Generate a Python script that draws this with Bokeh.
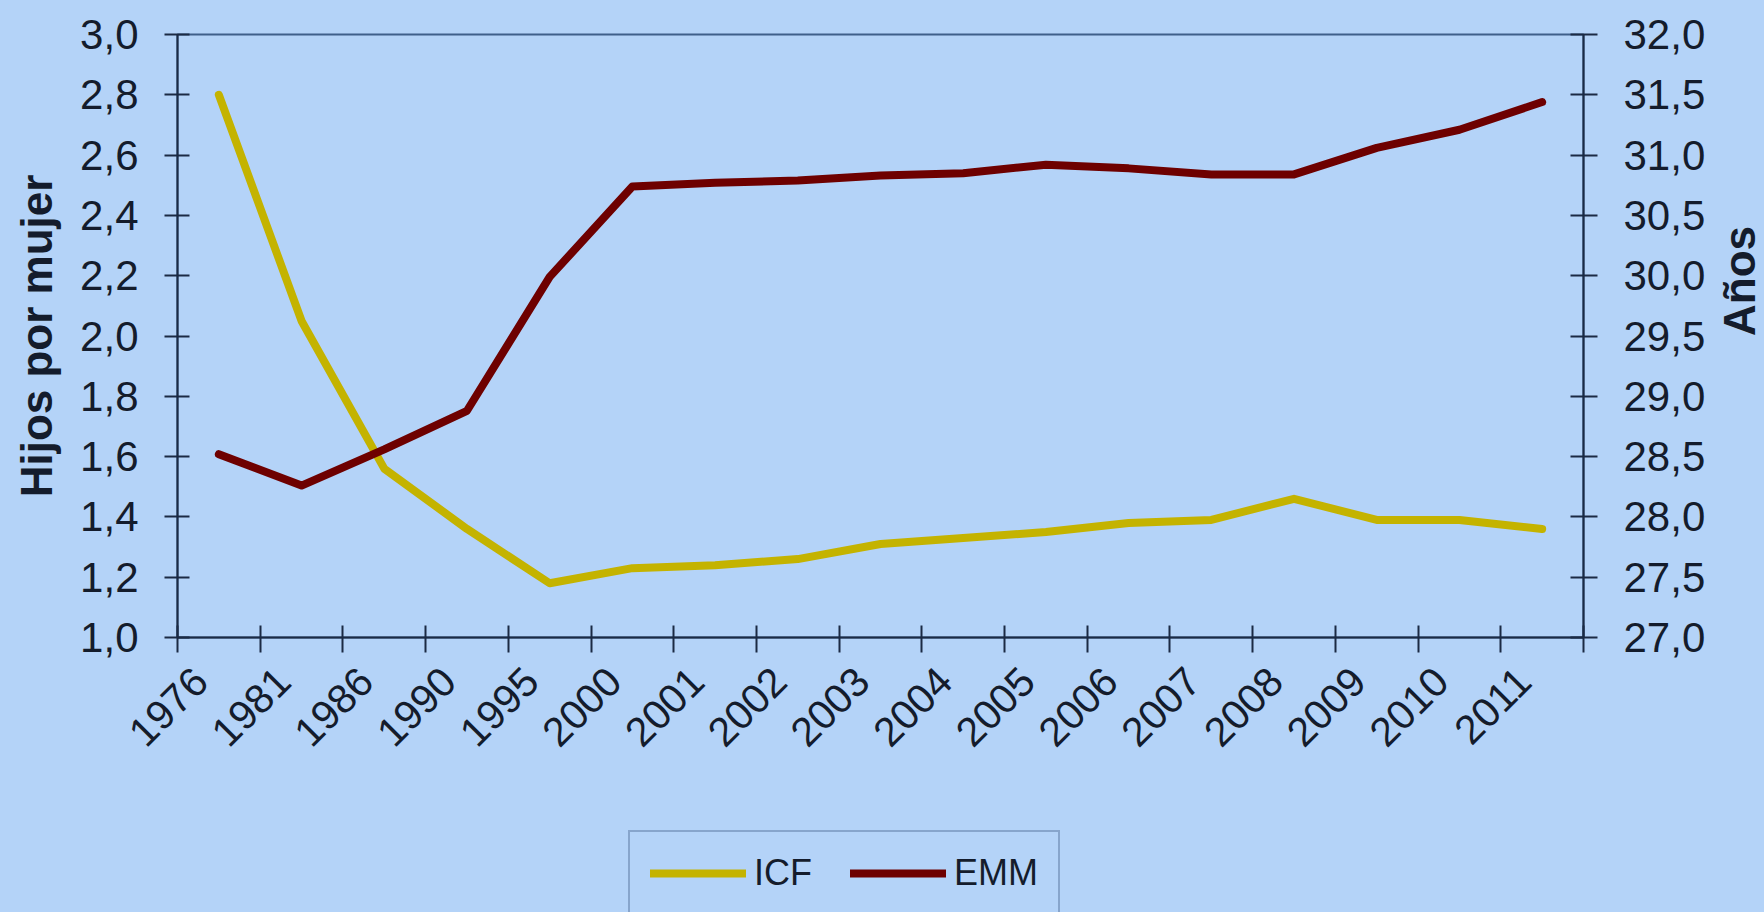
from bokeh.plotting import figure
from bokeh.models import (Range1d, LinearAxis, FixedTicker, Legend, LegendItem)
from bokeh.layouts import column
from bokeh.embed import file_html
from bokeh.resources import INLINE
from math import pi

# ---- data ----
years = ["1976", "1981", "1986", "1990", "1995", "2000", "2001", "2002", "2003",
         "2004", "2005", "2006", "2007", "2008", "2009", "2010", "2011"]
icf = [2.80, 2.05, 1.56, 1.36, 1.18, 1.23, 1.24, 1.26, 1.31, 1.33, 1.35, 1.38,
       1.39, 1.46, 1.39, 1.39, 1.36]
emm = [28.52, 28.26, 28.56, 28.88, 29.99, 30.74, 30.77, 30.79, 30.83, 30.85,
       30.92, 30.89, 30.84, 30.84, 31.06, 31.21, 31.44]
left_ticks = [1.0, 1.2, 1.4, 1.6, 1.8, 2.0, 2.2, 2.4, 2.6, 2.8, 3.0]
left_labels = ["1,0", "1,2", "1,4", "1,6", "1,8", "2,0", "2,2", "2,4", "2,6", "2,8", "3,0"]
right_ticks = [27.0, 27.5, 28.0, 28.5, 29.0, 29.5, 30.0, 30.5, 31.0, 31.5, 32.0]
right_labels = ["27,0", "27,5", "28,0", "28,5", "29,0", "29,5", "30,0", "30,5",
                "31,0", "31,5", "32,0"]
series_names = ["ICF", "EMM"]

BG = "#b4d3f8"
AX = "#1b2a44"
TXT = "#141c2c"
YEL = "#c4b300"
RED = "#6e0000"
FONT = "Liberation Sans"

n = len(years)
xc = [i + 0.5 for i in range(n)]
label_shift = 0.22
label_pos = [i + 0.5 - label_shift for i in range(n)]

p = figure(width=1764, height=830, frame_width=1406, frame_height=603,
           min_border_left=177, min_border_right=181, min_border_top=34,
           min_border_bottom=193,
           x_range=Range1d(0, n), y_range=Range1d(1.0, 3.0),
           output_backend="svg", toolbar_location=None)
p.extra_y_ranges = {"emm": Range1d(27.0, 32.0)}

p.background_fill_color = BG
p.border_fill_color = BG
p.outline_line_color = "#3f5f8a"
p.outline_line_width = 2
p.xgrid.visible = False
p.ygrid.visible = False

# x axis
xa = p.xaxis[0]
xa.ticker = FixedTicker(ticks=label_pos, minor_ticks=list(range(n + 1)))
xa.major_label_overrides = {pos: y for pos, y in zip(label_pos, years)}
xa.major_tick_in = 0
xa.major_tick_out = 0
xa.minor_tick_in = 12
xa.minor_tick_out = 15
xa.minor_tick_line_color = AX
xa.minor_tick_line_width = 2
xa.axis_line_color = AX
xa.axis_line_width = 2
xa.major_label_orientation = pi / 4
xa.major_label_text_font = FONT
xa.major_label_text_font_size = "41px"
xa.major_label_text_color = TXT
xa.major_label_standoff = 22

# left y axis
ya = p.yaxis[0]
ya.ticker = FixedTicker(ticks=left_ticks, minor_ticks=[])
ya.major_label_overrides = {t: l for t, l in zip(left_ticks, left_labels)}
ya.major_tick_in = 12
ya.major_tick_out = 13
ya.major_tick_line_color = AX
ya.major_tick_line_width = 2
ya.axis_line_color = AX
ya.axis_line_width = 2
ya.major_label_text_font = FONT
ya.major_label_text_font_size = "42px"
ya.major_label_text_color = TXT
ya.major_label_standoff = 26
ya.axis_label = "Hijos por mujer"
ya.axis_label_text_font = FONT
ya.axis_label_text_font_style = "bold"
ya.axis_label_text_font_size = "44px"
ya.axis_label_text_color = TXT
ya.axis_label_standoff = 16

# right y axis
ra = LinearAxis(y_range_name="emm",
                ticker=FixedTicker(ticks=right_ticks, minor_ticks=[]))
ra.major_label_overrides = {t: l for t, l in zip(right_ticks, right_labels)}
ra.major_tick_in = 13
ra.major_tick_out = 14
ra.major_tick_line_color = AX
ra.major_tick_line_width = 2
ra.axis_line_color = AX
ra.axis_line_width = 2
ra.major_label_text_font = FONT
ra.major_label_text_font_size = "42px"
ra.major_label_text_color = TXT
ra.major_label_standoff = 26
ra.axis_label = "Años"
ra.axis_label_orientation = pi / 2
ra.axis_label_text_font = FONT
ra.axis_label_text_font_style = "bold"
ra.axis_label_text_font_size = "44px"
ra.axis_label_text_color = TXT
ra.axis_label_standoff = 31
p.add_layout(ra, "right")

p.line(xc, icf, line_color=YEL, line_width=8, line_join="round", line_cap="round")
p.line(xc, emm, line_color=RED, line_width=8, line_join="round", line_cap="round",
       y_range_name="emm")

# legend strip below the chart (its series lie outside this strip's ranges,
# only the legend is visible here)
p2 = figure(width=1764, height=82, min_border=0, x_axis_location=None,
            y_axis_location=None, x_range=Range1d(0, n), y_range=Range1d(-1, 0),
            output_backend="svg", toolbar_location=None)
p2.background_fill_alpha = 0
p2.border_fill_color = BG
p2.outline_line_color = None
p2.grid.visible = False
k1 = p2.line(xc, icf, line_color=YEL, line_width=8, line_cap="round")
k2 = p2.line(xc, emm, line_color=RED, line_width=8, line_cap="round")

legend = Legend(items=[LegendItem(label=series_names[0], renderers=[k1]),
                       LegendItem(label=series_names[1], renderers=[k2])],
                orientation="horizontal", location=(451, -4))
legend.glyph_width = 96
legend.glyph_height = 30
legend.label_standoff = 8
legend.spacing = 38
legend.padding = 20
legend.margin = 0
legend.label_text_font = FONT
legend.label_text_font_size = "36px"
legend.label_text_color = TXT
legend.border_line_color = "#5a78a0"
legend.border_line_width = 2
legend.background_fill_color = BG
legend.background_fill_alpha = 1.0
p2.add_layout(legend, "center")

layout = column(p, p2, spacing=0, styles={"background-color": BG})
open("out.html", "w").write(file_html(layout, INLINE))
